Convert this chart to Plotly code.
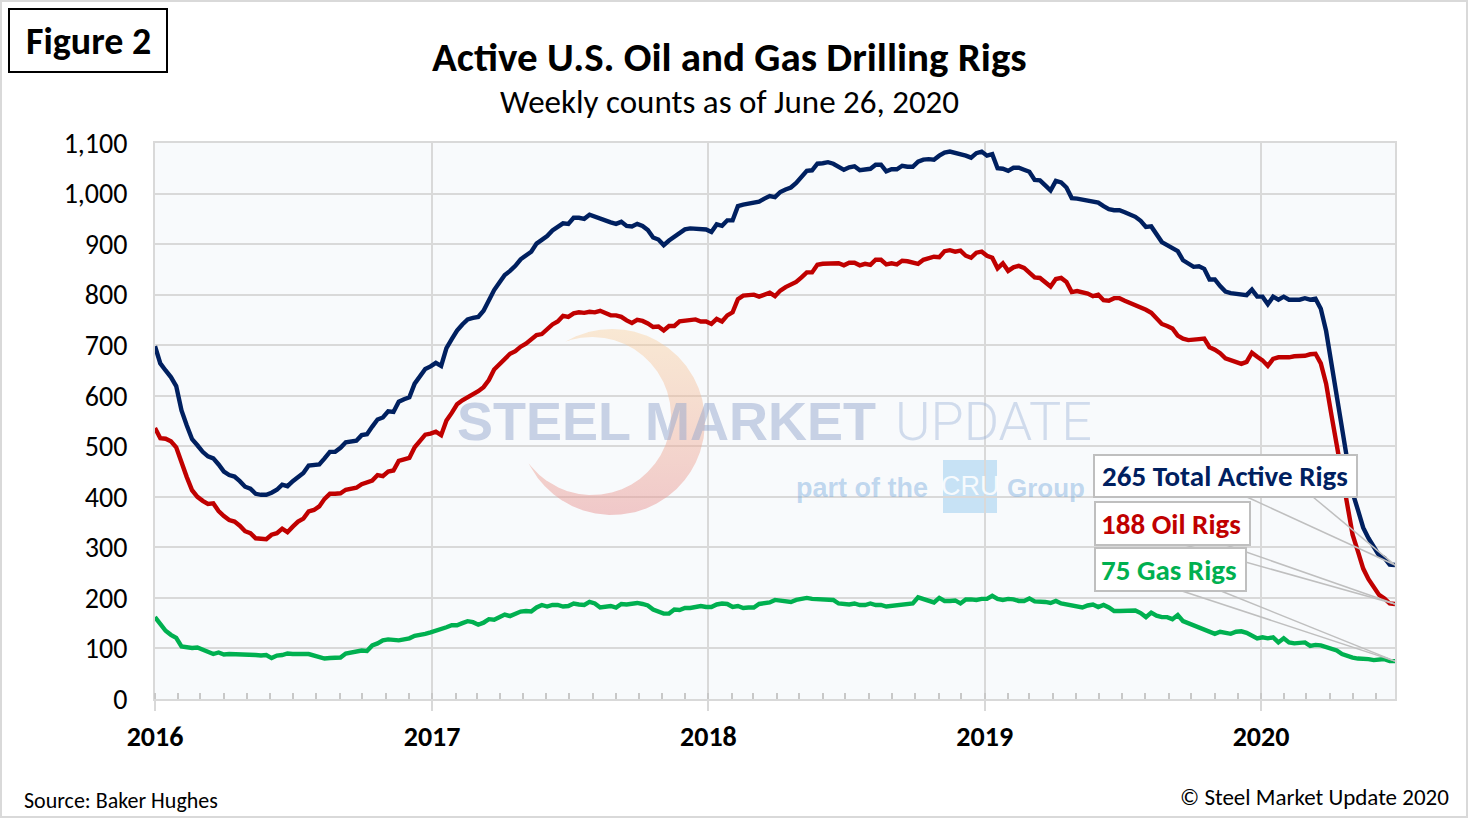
import numpy as np
import pandas as pd
import plotly.graph_objects as go

# ---------------- data (weekly, Fridays 2016-01-01 .. 2020-06-26) ----------------
total_2016 = [698, 664, 650, 637, 619, 571, 541, 514, 502, 489, 480, 476, 464,
              450, 443, 440, 431, 420, 416, 406, 404, 404, 408, 414, 424, 421,
              431, 440, 447, 462, 463, 464, 476, 489, 489, 497, 508, 510, 511, 522,
              524, 539, 553, 557, 569, 568, 588, 593, 597, 624, 637, 653, 658]
total_2017 = [665, 659, 694, 712, 729, 741, 751, 754, 756, 768, 789, 809, 824,
              839, 847, 857, 870, 877, 885, 901, 908, 916, 927, 933, 941, 940,
              952, 952, 950, 958, 954, 949, 946, 943, 940, 944, 936, 935, 940,
              936, 928, 913, 909, 898, 907, 915, 923, 929, 931, 930, 931, 929]
total_2018 = [924, 939, 936, 947, 947, 975, 978, 980, 981, 984, 990, 995, 993,
              1003, 1008, 1012, 1021, 1032, 1045, 1046, 1059, 1060, 1062, 1059, 1052, 1047,
              1052, 1054, 1046, 1048, 1049, 1057, 1057, 1044, 1048, 1048, 1055, 1053, 1053,
              1063, 1067, 1068, 1067, 1075, 1081, 1083, 1081, 1077, 1075, 1071, 1080, 1083]
total_2019 = [1075, 1078, 1050, 1049, 1045, 1051, 1051, 1047, 1043, 1027, 1026, 1016, 1006,
              1025, 1022, 1012, 991, 990, 988, 987, 984, 982, 975, 969, 967, 967,
              963, 958, 954, 946, 934, 935, 919, 904, 898, 892, 886, 868, 861,
              855, 856, 851, 830, 830, 817, 806, 803, 802, 799, 799, 810, 796]
total_2020 = [796, 781, 796, 790, 796, 790, 790, 790, 793, 790, 792, 772, 728,
              664, 602, 529, 465, 408, 374, 339, 318, 301, 284, 279, 266, 265]

oil_2016 = [536, 516, 515, 510, 498, 467, 439, 413, 400, 392, 386, 387, 372,
            362, 354, 351, 343, 332, 328, 318, 318, 316, 325, 328, 337, 330,
            341, 351, 357, 371, 374, 381, 396, 406, 406, 407, 414, 416, 418, 425,
            428, 432, 443, 441, 450, 452, 471, 474, 477, 498, 510, 523, 525]
oil_2017 = [529, 522, 551, 566, 583, 591, 597, 602, 609, 617, 631, 652, 662,
            672, 683, 688, 697, 703, 712, 720, 722, 733, 741, 747, 758, 756,
            763, 765, 764, 766, 765, 768, 763, 759, 759, 756, 749, 744, 750,
            748, 743, 736, 737, 729, 738, 738, 747, 749, 751, 751, 747, 747]
oil_2018 = [742, 752, 747, 759, 765, 791, 798, 799, 800, 796, 800, 804, 797,
            808, 815, 820, 825, 834, 844, 844, 859, 861, 862, 863, 862, 858,
            863, 863, 858, 861, 859, 869, 869, 860, 862, 860, 867, 866, 863,
            861, 869, 873, 875, 874, 886, 888, 885, 887, 877, 873, 883, 885]
oil_2019 = [877, 873, 852, 862, 847, 854, 857, 853, 843, 834, 833, 824, 816,
            831, 833, 825, 805, 807, 805, 802, 797, 800, 789, 788, 793, 793,
            788, 784, 779, 776, 770, 764, 754, 742, 738, 733, 719, 713, 710,
            710, 712, 713, 696, 691, 684, 674, 671, 668, 663, 667, 685, 677]
oil_2020 = [670, 659, 673, 676, 675, 676, 678, 678, 679, 682, 683, 664, 624,
            562, 504, 438, 378, 325, 292, 258, 237, 222, 206, 199, 189, 188]

gas_2016 = [162, 148, 135, 127, 121, 104, 102, 101, 102, 97, 94, 89, 92,
            88, 89, 89, 88, 87, 88, 87, 86, 87, 81, 86, 87, 90,
            89, 88, 89, 89, 86, 82, 80, 81, 81, 82, 90, 92, 92, 96,
            95, 106, 110, 116, 118, 116, 116, 118, 120, 125, 126, 129, 132]
gas_2017 = [135, 137, 142, 146, 146, 150, 154, 152, 147, 151, 158, 157, 162,
            167, 164, 169, 173, 174, 173, 181, 186, 183, 186, 186, 183, 184,
            189, 187, 186, 192, 189, 181, 183, 184, 181, 188, 187, 189, 190,
            188, 185, 177, 172, 169, 169, 177, 176, 180, 180, 182, 184, 182]
gas_2018 = [182, 187, 189, 188, 182, 184, 180, 181, 181, 188, 189, 191, 196,
            194, 193, 192, 196, 198, 200, 198, 198, 198, 198, 196, 189, 187,
            187, 189, 186, 186, 189, 186, 186, 183, 184, 186, 187, 186, 189,
            201, 197, 194, 191, 200, 194, 194, 195, 189, 197, 197, 196, 198]
gas_2019 = [198, 204, 198, 196, 198, 197, 194, 194, 199, 193, 193, 192, 190,
            194, 189, 187, 186, 183, 181, 185, 187, 182, 186, 181, 174, 174,
            175, 174, 175, 170, 162, 171, 165, 162, 162, 158, 166, 154, 150,
            144, 142, 137, 134, 129, 133, 130, 129, 133, 134, 131, 125, 120]
gas_2020 = [122, 120, 122, 112, 120, 112, 110, 110, 112, 105, 107, 106, 102,
            100, 96, 89, 85, 82, 80, 80, 79, 77, 77, 79, 75, 75]

weeks = pd.date_range("2016-01-01", "2020-06-26", freq="7D")
total = total_2016 + total_2017 + total_2018 + total_2019 + total_2020
oil = oil_2016 + oil_2017 + oil_2018 + oil_2019 + oil_2020
gas = gas_2016 + gas_2017 + gas_2018 + gas_2019 + gas_2020
assert len(weeks) == len(total) == len(oil) == len(gas)

y_ticks = list(range(0, 1101, 100))

title = "Active U.S. Oil and Gas Drilling Rigs"
subtitle = "Weekly counts as of June 26, 2020"
labels = [f"{total[-1]} Total Active Rigs", f"{oil[-1]} Oil Rigs", f"{gas[-1]} Gas Rigs"]

NAVY, RED, GREEN = "#002060", "#c00000", "#00b050"
GRID = "#d9d9d9"
F = "Carlito, Lato, sans-serif"

# ---------------- layout geometry (pixels) ----------------
W, H = 1468, 818
L, R, T, B = 155, 1395, 143, 699
YMAX = 1100


def px(x):
    return (x - L) / (R - L)


def py(y):
    return (B - y) / (B - T)


t0, t1 = weeks[0], weeks[-1]


def xdate(x):
    return t0 + (x - L) / (R - L) * (t1 - t0)


def yval(y):
    return (B - y) / (B - T) * YMAX


fig = go.Figure()

# ---------------- watermark crescent (decoration) ----------------
ocx, ocy, orad = 612, 422, 93
icx, icy, irad = 592, 416, 79
th = np.linspace(-np.pi, np.pi, 1441)
ox, oy = ocx + orad * np.cos(th), ocy + orad * np.sin(th)
keep_o = np.hypot(ox - icx, oy - icy) > irad
ix, iy = icx + irad * np.cos(th), icy + irad * np.sin(th)
keep_i = np.hypot(ix - ocx, iy - ocy) < orad
cx_px = np.concatenate([ox[keep_o], ix[keep_i][::-1]])
cy_px = np.concatenate([oy[keep_o], iy[keep_i][::-1]])
fig.add_trace(go.Scatter(
    x=[xdate(v) for v in cx_px], y=[yval(v) for v in cy_px],
    mode="lines", line=dict(width=0), fill="toself",
    fillgradient=dict(type="vertical", start=yval(515), stop=yval(330),
                      colorscale=[[0, "rgba(232,150,150,0.5)"], [1, "rgba(250,205,150,0.4)"]]),
    hoverinfo="skip", showlegend=False))

# ---------------- data lines ----------------
for vals, col, name in [(total, NAVY, "Total"), (oil, RED, "Oil"), (gas, GREEN, "Gas")]:
    fig.add_trace(go.Scatter(x=weeks, y=vals, mode="lines", name=name,
                             line=dict(color=col, width=4.4)))

shapes = []
# outer frame
shapes.append(dict(type="rect", xref="paper", yref="paper", x0=px(1), x1=px(W - 1),
                   y0=py(H - 1), y1=py(1), line=dict(color=GRID, width=2), layer="below"))
# Figure 2 box
shapes.append(dict(type="rect", xref="paper", yref="paper", x0=px(9), x1=px(167),
                   y0=py(72), y1=py(9), line=dict(color="black", width=2)))
# CRU box (watermark)
shapes.append(dict(type="rect", xref="paper", yref="paper", x0=px(943), x1=px(997),
                   y0=py(513), y1=py(460), line=dict(width=0),
                   fillcolor="rgba(125,190,235,0.4)", layer="below"))

# callout boxes with pointer lines
boxes = [
    ((1094, 455, 1357, 497), (1247, 1313), total[-1], NAVY, labels[0], 1225),
    ((1095, 502, 1250, 545), (1185, 1226), oil[-1], RED, labels[1], 1171),
    ((1095, 548, 1246, 591), (1182, 1221), gas[-1], GREEN, labels[2], 1169),
]
annots = []
for (x0, y0, x1, y1), (a, b), last, col, txt, tx in boxes:
    tipx, tipy = 1.0, last / YMAX
    for bx in (a, b):
        shapes.append(dict(type="line", xref="paper", yref="paper", x0=px(bx), y0=py(y1),
                           x1=tipx, y1=tipy, line=dict(color="#bfbfbf", width=1.5)))
    shapes.append(dict(type="rect", xref="paper", yref="paper", x0=px(x0), x1=px(x1),
                       y0=py(y1), y1=py(y0), line=dict(color="#bfbfbf", width=2),
                       fillcolor="white"))
    annots.append(dict(xref="paper", yref="paper", x=px(tx), y=py((y0 + y1) / 2),
                       text=txt, showarrow=False, xanchor="center", yanchor="middle",
                       font=dict(family=F, size=29, color=col, weight="bold")))


def ann(x, y, text, size, color="black", weight="normal", xanchor="center", family=F):
    annots.append(dict(xref="paper", yref="paper", x=px(x), y=py(y), text=text,
                       showarrow=False, xanchor=xanchor, yanchor="middle",
                       font=dict(family=family, size=size, color=color, weight=weight)))


ann(88, 41, "Figure 2", 38, weight="bold")
ann(729, 57, title, 41, weight="bold")
ann(729, 102, subtitle, 33)
ann(22, 800, "Source: Baker Hughes", 22, xanchor="left")
ann(1451, 797, "\u00a9 Steel Market Update 2020", 23, xanchor="right")
# watermark text
ann(455, 421, "STEEL MARKET", 54, color="rgba(150,168,205,0.5)", weight="bold",
    xanchor="left", family="Liberation Sans, Arial, sans-serif")
ann(893, 421, "UPDATE", 54, color="rgba(160,182,218,0.45)", weight=300,
    xanchor="left", family="Roboto, Liberation Sans, sans-serif")
ann(794, 488, "part of the", 27, color="rgba(120,170,220,0.45)", weight="bold",
    xanchor="left", family="Liberation Sans, Arial, sans-serif")
ann(1005, 488, "Group", 26, color="rgba(120,170,220,0.45)", weight="bold",
    xanchor="left", family="Liberation Sans, Arial, sans-serif")
ann(970, 486, "CRU", 27, color="rgba(255,255,255,0.85)",
    family="Liberation Sans Narrow, Liberation Sans, sans-serif")

fig.update_layout(
    width=W, height=H,
    margin=dict(l=L, r=W - R, t=T, b=H - B, pad=0),
    paper_bgcolor="white", plot_bgcolor="#f8fafc",
    showlegend=False, shapes=shapes, annotations=annots,
)
fig.update_xaxes(
    type="date", range=[weeks[0], weeks[-1]],
    tickmode="linear", tick0="2016-01-01", dtick="M12", tickformat="%Y",
    ticks="outside", ticklen=10, tickwidth=2, tickcolor=GRID,
    showgrid=True, gridcolor=GRID, gridwidth=2,
    showline=True, linecolor=GRID, linewidth=2, mirror=True, zeroline=False,
    tickfont=dict(family=F, size=28, color="black", weight="bold"),
    ticklabelstandoff=1,
    minor=dict(tick0="2016-01-01", dtick="M1", ticks="inside", ticklen=6,
               tickwidth=1.5, tickcolor="#c8c8c8", showgrid=False),
)
fig.update_yaxes(
    range=[0, YMAX], tickmode="array", tickvals=y_ticks,
    ticktext=[f"{v:,}" for v in y_ticks], ticks="",
    showgrid=True, gridcolor=GRID, gridwidth=2,
    showline=True, linecolor=GRID, linewidth=2, mirror=True, zeroline=False,
    tickfont=dict(family=F, size=28, color="black"), ticklabelstandoff=20,
)

fig.write_html("out.html", config={"displayModeBar": False},
               post_script="document.body.style.margin='0';")
